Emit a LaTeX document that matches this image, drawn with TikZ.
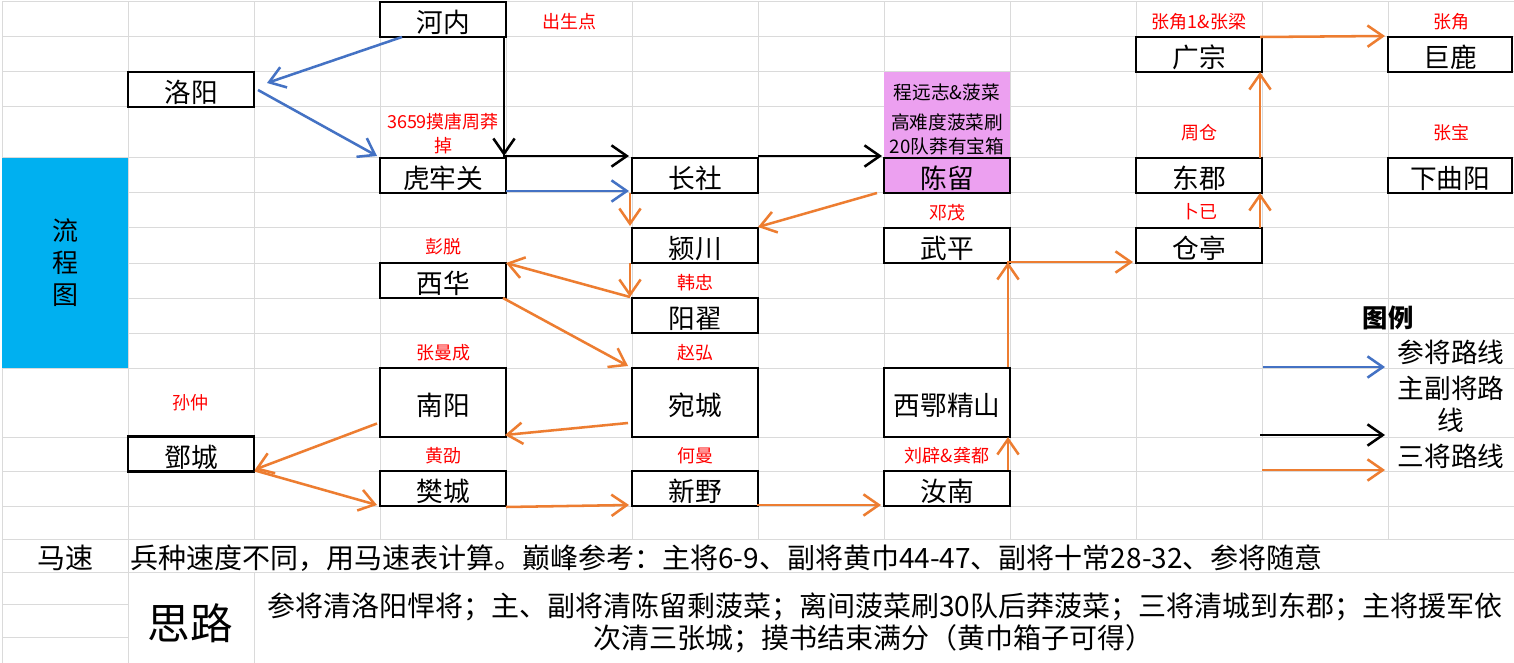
\documentclass[tikz,border=0pt]{standalone}
\usepackage{fontspec}
\setmainfont{Noto Sans CJK SC}
\usetikzlibrary{arrows.meta,calc}
\definecolor{gridc}{RGB}{218,218,218}
\definecolor{xlblue}{RGB}{0,176,240}
\definecolor{xlpurple}{RGB}{236,160,240}
\definecolor{arblue}{RGB}{68,114,196}
\definecolor{arorange}{RGB}{237,125,49}
\definecolor{lblred}{RGB}{255,0,0}
\begin{document}
\begin{tikzpicture}[x=0.75pt,y=-0.75pt,
  box/.style={draw=black,line width=2pt,fill=white,minimum width=94.5pt,minimum height=26.25pt,
    inner sep=0pt,outer sep=0pt,text height=20pt,text depth=0pt,font=\fontsize{20pt}{24pt}\selectfont},
  tallbox/.style={box,minimum height=51.75pt},
  lbl/.style={text=lblred,inner sep=0pt,font=\fontsize{13.5pt}{16pt}\selectfont},
  note/.style={text=black,inner sep=0pt,font=\fontsize{14pt}{16pt}\selectfont},
  bigtxt/.style={inner sep=0pt,font=\fontsize{20pt}{24pt}\selectfont},
  bottxt/.style={inner sep=0pt,font=\fontsize{21pt}{22.5pt}\selectfont},
  gridline/.style={draw=gridc,line width=0.75pt},
  arr/.style={line width=1.9pt,-{Straight Barb[length=11.5pt,width=16pt]}},
  barr/.style={arr,draw=arblue},
  oarr/.style={arr,draw=arorange},
  karr/.style={arr,draw=black}
]
\useasboundingbox (0,0) rectangle (1514,663);
\fill[white] (0,0) rectangle (1514,663);
% grid
\foreach \y in {2,37,72,107,158,193,228,263,298,333,368,437,471,506,539,572}
  \draw[gridline] (2,\y) -- (1514,\y);
\foreach \y in {604,637}
  \draw[gridline] (2,\y) -- (128,\y);
\foreach \x in {254,380,506,632,758,884,1010,1136,1262,1388}
  \draw[gridline] (\x,2) -- (\x,539);
\draw[gridline] (2,2) -- (2,663);
\draw[gridline] (128,2) -- (128,663);
\draw[gridline] (254,572) -- (254,663);

% coloured cells
\node[fill=xlblue,minimum width=94.5pt,minimum height=157.5pt,inner sep=0pt,align=center,
  font=\fontsize{19.5pt}{24pt}\selectfont] (flow) at (65,263) {流\\程\\图};
\node[fill=xlpurple,minimum width=94.5pt,minimum height=64.5pt,inner sep=0pt] (cnote) at (947,115) {};

% boxes
\node[box] (henei) at (443,19.5) {河内};
\node[box] (luoyang) at (191,89.5) {洛阳};
\node[box] (hulao) at (443,175.5) {虎牢关};
\node[box] (changshe) at (695,175.5) {长社};
\node[box,fill=xlpurple] (chenliu) at (947,175.5) {陈留};
\node[box] (yingchuan) at (695,245.5) {颍川};
\node[box] (wuping) at (947,245.5) {武平};
\node[box] (xihua) at (443,280.5) {西华};
\node[box] (yangdi) at (695,315.5) {阳翟};
\node[tallbox] (nanyang) at (443,402.5) {南阳};
\node[tallbox] (wancheng) at (695,402.5) {宛城};
\node[tallbox] (xie) at (947,402.5) {西鄂精山};
\node[box] (dengcheng) at (191,454) {鄧城};
\node[box] (fancheng) at (443,488.5) {樊城};
\node[box] (xinye) at (695,488.5) {新野};
\node[box] (runan) at (947,488.5) {汝南};
\node[box] (guangzong) at (1199,54.5) {广宗};
\node[box,minimum width=93pt] (julu) at (1450,54.5) {巨鹿};
\node[box] (dongjun) at (1199,175.5) {东郡};
\node[box,minimum width=93pt] (xiaquyang) at (1450,175.5) {下曲阳};
\node[box] (cangting) at (1199,245.5) {仓亭};

% red labels
\node[lbl] (l1) at (569,22) {出生点};
\node[lbl,align=center] (l2) at (443,134) {3659摸唐周莽\\[2pt]掉};
\node[lbl] (l3) at (443,247) {彭脱};
\node[lbl] (l4) at (443,353) {张曼成};
\node[lbl] (l5) at (190,403) {孙仲};
\node[lbl] (l6) at (443,456) {黄劭};
\node[lbl] (l7) at (695,283) {韩忠};
\node[lbl] (l8) at (695,353) {赵弘};
\node[lbl] (l9) at (695,456) {何曼};
\node[lbl] (l10) at (947,213) {邓茂};
\node[lbl] (l11) at (947,456) {刘辟\&龚都};
\node[lbl] (l12) at (1199,22) {张角1\&张梁};
\node[lbl] (l13) at (1199,133) {周仓};
\node[lbl] (l14) at (1199,212) {卜已};
\node[lbl] (l15) at (1451,22) {张角};
\node[lbl] (l16) at (1451,133) {张宝};

% notes in purple cell
\node[note] (n1) at (947,92) {程远志\&菠菜};
\node[note] (n2) at (947,122) {高难度菠菜刷};
\node[note] (n3) at (947,146) {20队莽有宝箱};

% blue routes
\draw[barr] ($(henei.south west)+(22,0)$) -- ($(luoyang.east)+(13,-6.5)$);
\draw[barr] ($(luoyang.east)+(4,0.5)$) -- ($(hulao.north west)+(-3,-2)$);
\draw[barr] ($(hulao.south east)+(0,-2)$) -- ($(changshe.south west)+(-3,-2)$);
% black routes
\draw[karr] ($(henei.south east)+(-2,0)$) -- ($(hulao.north east)+(-2,-2)$);
\draw[karr] ($(hulao.north east)+(-3,-2)$) -- ($(changshe.north west)+(-3,-2)$);
\draw[karr] ($(changshe.north east)+(0,-2)$) -- ($(chenliu.north west)+(-2,-2)$);
% orange routes
\draw[oarr] ($(changshe.south west)+(-2,0)$) -- ($(yingchuan.north west)+(-2,-2)$);
\draw[oarr] ($(chenliu.south west)+(-7,0)$) -- ($(yingchuan.north east)+(0,-1)$);
\draw[oarr] ($(yingchuan.south west)+(-2,0)$) -- ($(yangdi.north west)+(-2,-1)$);
\draw[oarr] ($(yangdi.north west)+(-2,-1)$) -- ($(xihua.north east)+(0,0)$);
\draw[oarr] ($(xihua.south east)+(-3,0)$) -- ($(wancheng.north west)+(-4,-2)$);
\draw[oarr] ($(wancheng.west)+(-4,20.5)$) -- ($(nanyang.south east)+(-1,-2)$);
\draw[oarr] ($(nanyang.west)+(-3,21)$) -- ($(dengcheng.south east)+(1,-2)$);
\draw[oarr] ($(dengcheng.south east)+(1,-1)$) -- ($(fancheng.south west)+(-3,-1)$);
\draw[oarr] ($(fancheng.south east)+(0,1)$) -- ($(xinye.south west)+(-3,-1)$);
\draw[oarr] ($(xinye.south east)+(-1,-1)$) -- ($(runan.south west)+(-3,-1)$);
\draw[oarr] ($(runan.north east)+(-2,-1)$) -- ($(xie.south east)+(-2,0)$);
\draw[oarr] ($(xie.north east)+(-2,-1)$) -- ($(wuping.south east)+(-2,-1)$);
\draw[oarr] ($(wuping.south east)+(-3,-1)$) -- ($(cangting.south west)+(-3,-1)$);
\draw[oarr] ($(cangting.north east)+(-2,0)$) -- ($(dongjun.south east)+(-2,0)$);
\draw[oarr] ($(dongjun.north east)+(-2,0)$) -- ($(guangzong.south east)+(-2,0)$);
\draw[oarr] ($(guangzong.north east)+(-2,0)$) -- ($(julu.north west)+(-3,-1)$);

% legend
\node[inner sep=0pt,font=\fontsize{19pt}{24pt}\selectfont\bfseries] (lg0) at (1388,318) {图例};
\node[bigtxt] (lg1) at (1451,352) {参将路线};
\node[bigtxt,align=center,font=\fontsize{20pt}{24pt}\selectfont] (lg2) at (1451,404) {主副将路\\线};
\node[bigtxt] (lg3) at (1451,456) {三将路线};
\coordinate (lb1) at (1263,367); \coordinate (lb2) at (1385,367);
\coordinate (lk1) at (1260,435); \coordinate (lk2) at (1385,435);
\coordinate (lo1) at (1262,470); \coordinate (lo2) at (1385,470);
\draw[barr] (lb1) -- (lb2);
\draw[karr] (lk1) -- (lk2);
\draw[oarr] (lo1) -- (lo2);

% bottom texts
\node[bottxt] (ms) at (65,558) {马速};
\node[bottxt,anchor=west] (mst) at (130,558) {兵种速度不同，用马速表计算。巅峰参考：主将6-9、副将黄巾44-47、副将十常28-32、参将随意};
\node[inner sep=0pt,font=\fontsize{32pt}{36pt}\selectfont] (sl) at (190,623) {思路};
\node[bottxt] (s1) at (885,607) {参将清洛阳悍将；主、副将清陈留剩菠菜；离间菠菜刷30队后莽菠菜；三将清城到东郡；主将援军依};
\node[bottxt] (s2) at (873,639) {次清三张城；摸书结束满分（黄巾箱子可得）};
\end{tikzpicture}
\end{document}
